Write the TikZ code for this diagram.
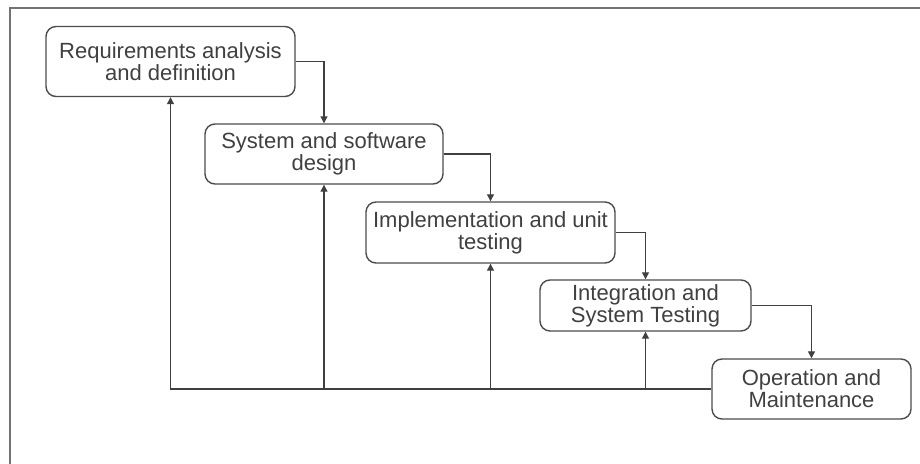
\documentclass[tikz,border=0pt]{standalone}
\usepackage{fontspec}
\setmainfont{Liberation Sans}
\usetikzlibrary{arrows.meta}

\begin{document}
\begin{tikzpicture}[
    x=0.5pt,y=-0.5pt,
    stage/.style={draw=black!70,line width=0.7pt,rounded corners=5pt,align=center,inner sep=0pt,text=black!75,font=\fontsize{11}{11}\selectfont},
    flow/.style={draw=black!75,line width=0.6pt,-{Triangle[length=3.5pt,width=3.5pt]}}
    ]
    \useasboundingbox (0,0) rectangle (920,464);
    \draw[black!55,line width=1pt] (10,464) -- (10,8) -- (920,8);
    \node[stage,minimum width=124.5pt,minimum height=35pt] (req) at (170.5,61.5) {Requirements analysis\\and definition};
    \node[stage,minimum width=119pt,minimum height=30pt] (design) at (324,154) {System and software\\design};
    \node[stage,minimum width=124.5pt,minimum height=30.5pt] (impl) at (490.5,232.5) {Implementation and unit\\testing};
    \node[stage,minimum width=105.5pt,minimum height=25.5pt] (integ) at (645.5,305.5) {Integration and\\System Testing};
    \node[stage,minimum width=99.5pt,minimum height=30pt] (oper) at (811.5,389) {Operation and\\Maintenance};
    \draw[flow] (req.east) -| (design.north);
    \draw[flow] (design.east) -| (impl.north);
    \draw[flow] (impl.east) -| (integ.north);
    \draw[flow] (integ.east) -| (oper.north);
    \draw[flow] (oper.west) -| (req.south);
    \draw[flow] (oper.west -| design.south) -- (design.south);
    \draw[flow] (oper.west -| impl.south) -- (impl.south);
    \draw[flow] (oper.west -| integ.south) -- (integ.south);
\end{tikzpicture}
\end{document}
